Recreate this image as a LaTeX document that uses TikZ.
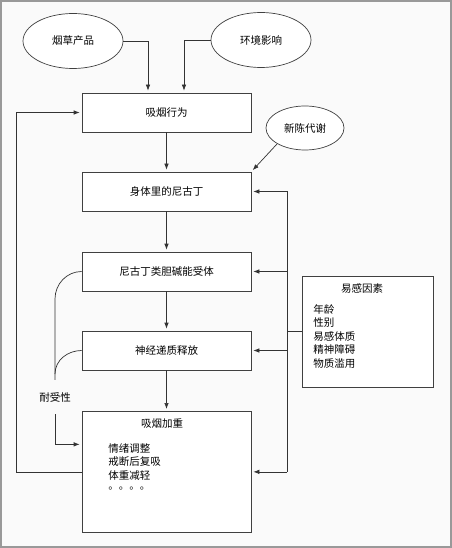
\documentclass[tikz,border=0pt]{standalone}
\usepackage{fontspec}
\setmainfont{Noto Sans CJK SC}
\usetikzlibrary{shapes,arrows.meta,positioning}
\usepackage{xcolor}

\begin{document}
\begin{tikzpicture}[x=1bp,y=-1bp, line width=0.7bp,
        font=\fontsize{10.5bp}{13.5bp}\selectfont,
        box/.style={draw=black!75, fill=white, minimum width=169bp, minimum height=39bp, inner sep=0pt},
        oval/.style={draw=black!75, fill=white, ellipse, inner sep=0pt},
        arr/.style={-{Latex[length=6bp,width=4.5bp]}, black!80, shorten >=2bp}]
            \useasboundingbox (0,0) rectangle (452,548);
            \draw[black!40, fill=black!2, line width=1.5bp] (1,1) rectangle (451,547);

            \node[oval, minimum width=100bp, minimum height=55bp] (tob) at (73,41) {烟草产品};
            \node[oval, minimum width=100bp, minimum height=55bp] (env) at (261,40) {环境影响};
            \node[oval, minimum width=78bp, minimum height=44bp] (meta) at (305,128) {新陈代谢};

            \node[box] (smoke) at (166.5,112.5) {吸烟行为};
            \node[box] (body) at (166.5,191.5) {身体里的尼古丁};
            \node[box] (rec) at (166.5,271.5) {尼古丁类胆碱能受体};
            \node[box] (rel) at (166.5,350.5) {神经递质释放};
            \node[box, minimum height=121bp, anchor=north] (worse) at (166.5,411) {};
            \node at (162,424) {吸烟加重};
            \node[anchor=north west, align=left, inner sep=0pt] at (108,443) {情绪调整\\戒断后复吸\\体重减轻\\\raisebox{3bp}{。。。。}};

            \node[box, minimum width=131bp, minimum height=111bp] (fac) at (367.5,331.5) {};
            \node at (362,289) {易感因素};
            \node[anchor=north west, align=left, inner sep=0pt] at (313,304) {年龄\\性别\\易感体质\\精神障碍\\物质滥用};

            \node[inner ysep=12bp, inner xsep=0pt] (tol) at (55,397) {耐受性};

            \draw[arr] (tob.east) -| ([xshift=-18.5bp]smoke.north);
            \draw[arr] (env.west) -| ([xshift=17.5bp]smoke.north);
            \draw[arr] (meta.south west) -- (body.north east);
            \draw[arr] (smoke) -- (body);
            \draw[arr] (body) -- (rec);
            \draw[arr] (rec) -- (rel);
            \draw[arr] (rel) -- (worse);

            \coordinate (bt) at (287,191.5);
            \coordinate (bb) at (287,471.5);
            \draw[black!80] (bt) -- (bb);
            \draw[black!80] (fac.west) -- (fac.west -| bt);
            \foreach \n in {body,rec,rel,worse}
                \draw[arr] (\n.east -| bt) -- (\n.east);

            \draw[arr] (worse.west) -- ++(-65,0) |- (smoke.west);

            \draw[black!80] (rec.west) to[out=180,in=90] (55,299) -- (tol.north);
            \draw[black!80] (rel.west) to[out=180,in=90] (55,374);
            \draw[arr] (tol.south) |- ([yshift=27.5bp]worse.west);
        \end{tikzpicture}
\end{document}
